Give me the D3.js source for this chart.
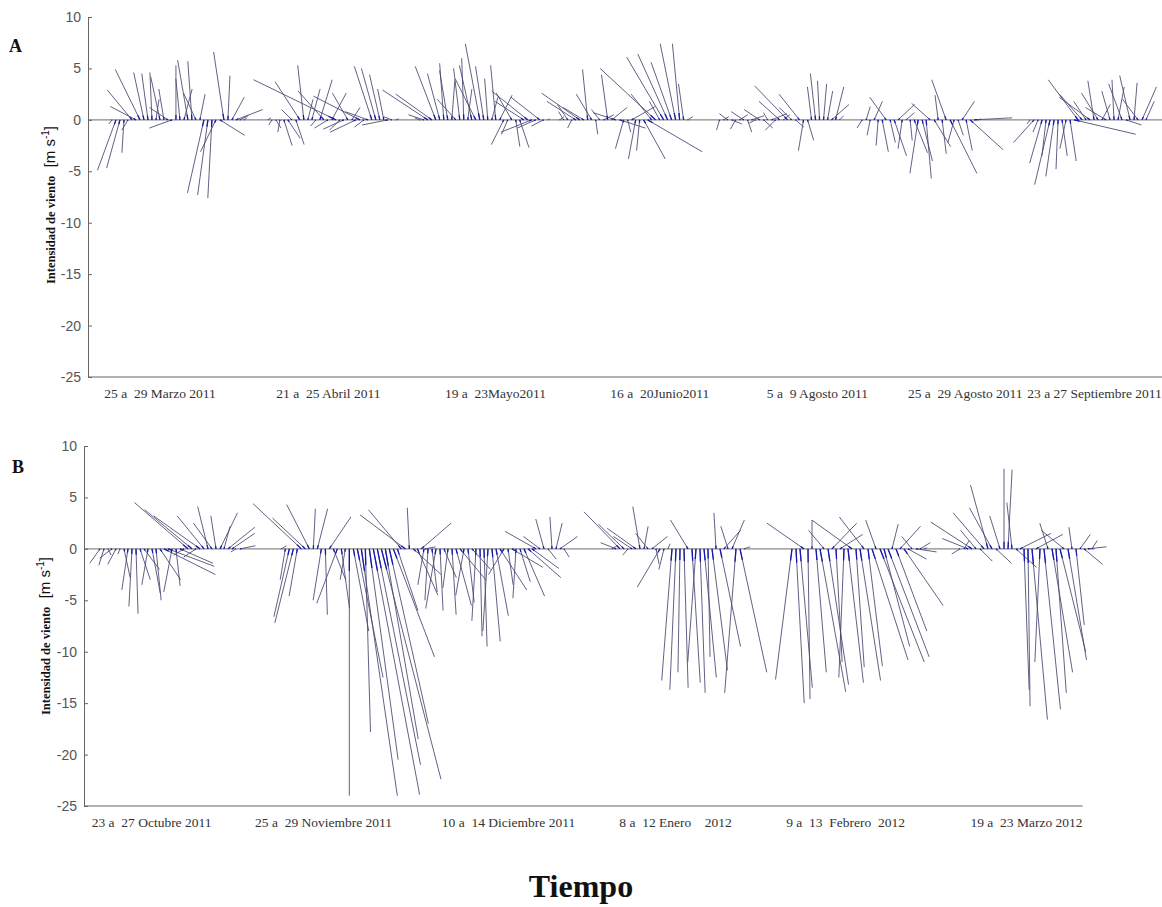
<!DOCTYPE html>
<html><head><meta charset="utf-8">
<script src="https://cdn.jsdelivr.net/npm/d3@7"></script>
<style>body{margin:0;background:#fff}</style>
</head><body>
<svg id="c" width="1162" height="907"></svg>
<script>
// ---------- data ----------
const yTicks = [10, 5, 0, -5, -10, -15, -20, -25];
const stepHours = 3;

const labelsA = ["25 a  29 Marzo 2011", "21 a  25 Abril 2011", "19 a  23Mayo2011", "16 a  20Junio2011", "5 a  9 Agosto 2011", "25 a  29 Agosto 2011", "23 a 27 Septiembre 2011"];
const labelHoursA = [53.7, 180, 305.4, 428.7, 547, 658, 755];
const startHoursA = [18, 135, 249, 354, 474, 581, 707];

const uA1 = [-0.3,-1.8,-1.3,-0.2,-0.6,-2.4,-2.5,-2.4,-1.0,-0.6,-0.2,0.3,-0.9,-0.5,-1.8,-2.2,0.0,-0.4,0.8,-1.0,-0.4,-1.2,0.5,-1.6,-1.0,-0.4,-1.5,2.4,-1.0,0.2,1.2,2.6,0.8,0.3];
const vA1 = [-0.4,-4.9,-4.7,-3.2,-1.0,2.9,1.3,4.9,4.6,4.5,4.6,2.0,4.2,3.0,1.2,-0.8,5.3,4.0,3.0,5.8,5.7,2.6,2.5,-7.1,-7.3,-7.6,-3.1,-1.5,6.6,4.3,2.2,1.0,0.4,0.2];
const uA2 = [0.3,-0.3,0.5,-0.2,0.8,1.2,-1.0,0.8,-2.4,-0.6,0.5,0.8,-0.5,1.2,-2.5,-1.3,1.4,-8.0,-1.0,-2.0,-1.5,0.8,-2.5,-4.5,-0.9,-2.2,-1.7,-1.4,-1.0,-0.6,-2.5,-0.8,0.3];
const vA2 = [0.2,-0.5,-0.8,-1.2,-2.5,-1.8,1.0,-2.4,3.7,5.3,2.0,3.0,-0.6,3.9,2.8,-0.8,2.6,3.9,-1.0,-0.9,2.6,1.2,-1.2,2.3,-0.7,0.8,5.2,5.0,4.4,3.0,-0.5,0.3,0.1];
const uA3 = [-0.5,-1.5,-4.4,-3.5,-2.0,-1.2,-0.4,-0.8,0.3,-1.8,-0.6,-0.2,0.4,-1.2,-2.0,-1.4,-0.8,-0.3,0.6,-0.5,1.2,-1.2,-0.6,-1.5,0.4,0.9,-2.8,-3.5,-3.0,-1.8,-2.8,-1.2,0.2];
const vA3 = [0.2,0.5,2.9,2.5,5.2,4.5,5.5,4.8,3.8,2.0,5.0,6.0,3.0,5.3,4.0,7.4,5.2,4.0,2.2,5.3,2.4,-2.4,-1.4,2.6,-2.6,-2.7,1.8,2.8,-1.2,-0.8,2.2,-0.6,0.1];
const uA4 = [0.4,-0.5,-1.0,-0.4,-2.8,-3.7,-2.0,-0.5,-1.5,0.2,-0.8,1.0,-0.6,1.5,-2.2,2.5,-0.8,0.3,2.3,-0.7,-0.3,2.1,5.3,-2.0,-5.4,-1.0,-3.6,-2.9,-2.0,-1.5,-0.7,-0.5,0.5];
const vA4 = [0.3,0.8,1.5,-0.8,1.8,2.6,1.2,4.9,2.5,-1.4,1.0,0.5,4.4,1.2,0.7,-0.8,-2.8,-1.2,1.3,-3.8,-3.0,-3.8,-3.1,2.5,5.0,1.8,6.1,6.4,5.6,7.4,7.4,3.5,0.3];
const uA5 = [-0.3,0.5,-0.8,1.0,-0.5,0.8,-1.2,0.4,1.2,-0.6,-1.5,0.9,-0.4,1.5,-1.0,-2.0,0.6,-3.2,-1.2,0.8,-2.0,-0.5,0.6,-0.4,-0.5,-0.2,0.3,0.5,1.7,0.8,0.4];
const vA5 = [-1.0,0.3,0.6,-0.4,-0.9,0.5,0.8,-1.2,0.4,-0.3,1.0,-0.8,0.7,0.6,-1.0,1.8,0.5,3.3,1.2,-0.7,2.5,-3.0,-2.0,3.2,4.5,3.8,3.5,2.8,1.5,3.2,0.4];
const uA6 = [-0.5,0.4,-0.3,0.8,-0.2,0.6,-1.6,0.5,1.2,1.6,-0.4,0.8,0.2,1.3,-0.8,1.0,0.5,-1.8,1.6,-0.3,0.4,-1.4,2.6,-0.6,0.5,1.2,0.6,3.2,3.7,0.3];
const vA6 = [-0.8,1.3,-1.5,1.8,-2.5,-3.1,2.2,-2.2,-3.5,1.5,-2.8,0.7,-2.0,-3.2,-5.2,-4.0,-5.7,1.6,-2.6,2.4,-3.3,3.9,-5.2,-2.2,-1.5,1.8,-3.0,-2.9,0.2,0.1];
const uA7 = [-0.3,-2.0,-0.5,-1.2,-0.4,-1.5,-0.8,-0.2,0.5,-0.6,0.6,6.0,-2.9,-2.2,-1.2,-3.0,-0.6,-1.6,0.8,-2.0,-0.8,-0.2,0.6,-1.3,1.5,-1.0,0.3,-1.5,1.4,0.8];
const vA7 = [-0.4,-2.2,-1.2,-4.2,-3.5,-6.3,-5.5,-4.8,-3.5,-2.8,-4.0,-1.4,3.9,2.5,1.8,2.2,3.8,2.6,1.5,1.2,2.8,3.9,3.2,3.5,-0.5,4.3,3.6,2.0,3.2,1.8];

const labelsB = ["23 a  27 Octubre 2011", "25 a  29 Noviembre 2011", "10 a  14 Diciembre 2011", "8 a  12 Enero    2012", "9 a  13  Febrero  2012", "19 a  23 Marzo 2012"];
const labelHoursB = [50.3, 179.3, 318, 443.3, 570.8, 706.5];
const startHoursB = [12, 148, 255, 396, 531, 657];

const uB1 = [-1.0,-0.5,0.3,-1.2,-0.8,-0.2,0.6,-0.6,-0.3,0.2,1.0,1.5,-0.6,0.8,0.5,2.0,5.0,4.5,-0.8,0.4,3.2,-1.0,-5.2,-4.6,-1.2,-4.5,-2.6,-1.0,-1.8,-0.5,1.7,0.6,2.6,2.2,-0.5,1.5];
const vB1 = [-1.4,-1.6,-0.6,-0.9,-1.5,-0.5,-2.8,-4.0,-5.6,-6.3,-3.0,-2.0,-3.5,-4.3,-5.0,-3.0,-2.5,-1.7,-4.2,-3.6,-1.4,-0.6,4.5,3.8,-0.8,3.2,3.2,4.1,2.5,3.2,3.5,2.2,2.1,1.5,-0.3,0.3];
const uB2 = [0.5,-0.5,-1.5,-1.8,-0.8,-4.7,-3.2,-2.2,0.2,1.0,-0.8,0.2,2.1,1.2,-2.0,0.8,-0.5,0.0,1.5,2.5,3.5,0.5,2.8,4.5,4.2,5.8,3.2,3.8,4.0,2.0,-3.2,-4.4,-0.2,2.7,2.0,2.9,1.0];
const vB2 = [0.3,-3.0,-6.6,-7.2,-4.6,4.4,3.0,4.3,3.9,3.9,-5.0,-6.4,3.1,-3.0,-5.3,-5.8,-3.0,-24.0,-8.0,-12.5,-24.0,-17.8,-20.5,-23.9,-21.0,-22.4,-18.5,-17.0,-10.5,-6.0,3.8,3.3,4.0,-2.5,-4.5,2.5,0.2];
const uB3 = [-0.6,-0.3,0.5,-1.0,0.3,1.2,-0.5,0.4,1.5,2.5,-0.8,0.6,1.8,-0.4,0.2,0.3,-0.5,0.8,1.2,2.6,-1.5,0.5,3.0,-0.3,1.0,2.0,3.2,2.6,-3.0,-1.6,-0.8,0.8,-0.2,0.6,1.7,0.5];
const vB3 = [-3.5,-5.0,-4.2,-5.8,-6.0,-2.8,-3.8,-6.4,-5.5,-3.0,-4.5,-5.2,-2.0,-7.0,-8.5,-9.5,-8.0,-9.0,-6.5,-4.0,-2.5,-3.5,-1.8,-4.8,-3.2,-4.6,-2.8,-1.9,1.7,1.2,2.9,-1.0,3.1,2.5,1.2,-0.8];
const uB4 = [0.5,-1.5,-3.5,-2.5,-0.5,-1.8,-2.8,-0.7,0.4,-1.2,1.5,0.3,-2.2,-0.5,0.2,-1.0,-0.6,-0.2,0.4,-1.7,0.8,-0.8,0.5,1.2,0.2,1.5,-0.2,2.0,1.6,-0.7,1.2,-1.1,2.6,0.6];
const vB4 = [0.3,0.6,3.6,2.4,-0.6,1.2,2.0,4.1,2.2,1.5,1.2,-1.5,-3.7,-2.0,0.5,-12.8,-13.7,-12.0,-13.5,2.8,-13.0,-11.0,-14.0,-12.5,-10.5,-11.8,3.5,-9.5,1.8,2.2,2.8,-14.0,-12.0,0.2];
const uB5 = [-1.6,0.8,1.2,-3.6,0.2,0.0,1.0,2.5,-1.5,2.0,2.4,0.6,2.2,-0.5,1.5,-3.9,0.8,2.0,-2.4,1.4,3.5,-1.0,4.3,2.5,4.0,0.6,3.0,2.0,3.8,1.8,-1.0,2.0,1.0,0.3];
const vB5 = [-12.7,-15.0,-13.5,2.5,-14.6,2.8,-12.0,-13.9,1.8,-13.2,2.5,-11.0,1.4,-12.5,-13.0,2.8,-11.5,-12.8,3.1,-11.4,-10.8,2.8,-11.0,-9.5,-10.5,2.4,-8.0,2.2,-5.5,-1.0,1.2,-0.3,0.6,0.1];
const uB6 = [-0.8,0.5,-2.5,-4.0,-1.5,1.2,-3.0,-1.7,-2.2,1.5,-1.0,0.0,0.4,-0.5,2.0,3.0,0.5,0.2,1.5,2.6,-0.5,1.6,-0.8,2.0,1.0,2.5,-2.2,1.8,-0.3,0.8,1.0,1.8,1.8,0.5];
const vB6 = [-0.5,0.8,1.0,2.6,1.8,-1.2,3.5,6.2,4.0,-1.4,3.2,7.8,7.7,4.5,-1.8,1.5,-13.7,-15.3,-16.6,1.4,-11.0,-15.6,2.5,-12.0,-14.0,-10.0,1.8,-10.8,2.1,-7.4,1.4,-1.5,0.2,0.8];

// ---------- drawing ----------
const svg = d3.select("#c");
const serif = "'Liberation Serif','Times New Roman',serif";
const sans = "'Liberation Sans',Arial,sans-serif";

function panel(cfg) {
  const g = svg.append("g");
  const x = d3.scaleLinear().domain(cfg.xDomain).range(cfg.xRange);
  const y = d3.scaleLinear().domain([-25, 10]).range(cfg.yRange);
  const k = y(0) - y(1); // px per m/s, same for both components

  // zero line
  g.append("line").attr("x1", x(cfg.xDomain[0])).attr("x2", x(cfg.zeroEnd))
    .attr("y1", y(0)).attr("y2", y(0)).attr("stroke", "#8a8a8a").attr("stroke-width", 1.2);

  // sticks
  const sticks = [];
  cfg.groups.forEach((gr, gi) => {
    const n = Math.min(gr.u.length, gr.v.length);
    for (let i = 0; i < n; i++) sticks.push({ t: cfg.starts[gi] + i * stepHours, u: gr.u[i], v: gr.v[i] });
  });
  g.append("g").selectAll("line").data(sticks).join("line")
    .attr("x1", d => x(d.t)).attr("y1", y(0))
    .attr("x2", d => x(d.t) + d.u * k).attr("y2", d => y(d.v))
    .attr("stroke", "#45476f").attr("stroke-width", 1).attr("stroke-opacity", 0.85);
  // dense blue near origins
  g.append("g").selectAll("line").data(sticks).join("line")
    .attr("x1", d => x(d.t)).attr("y1", y(0))
    .attr("x2", d => x(d.t) + d.u * k * 0.09).attr("y2", d => y(d.v * 0.09))
    .attr("stroke", "#1818b0").attr("stroke-width", 1.3);

  // y axis
  const ya = g.append("g").attr("transform", `translate(${cfg.xRange[0]},0)`)
    .call(d3.axisLeft(y).tickValues(yTicks).tickFormat(d => String(d)).tickSizeInner(-4).tickSizeOuter(-4).tickPadding(7));
  ya.select(".domain").attr("stroke", "#666");
  ya.selectAll(".tick line").attr("stroke", "#666");
  ya.selectAll(".tick text").attr("fill", "#555").style("font-family", sans).style("font-size", "14px");

  // x axis
  const xa = g.append("g").attr("transform", `translate(0,${y(-25)})`)
    .call(d3.axisBottom(x).tickValues(cfg.labelHours).tickFormat((d, i) => cfg.labels[i]).tickSize(0).tickPadding(11));
  xa.select(".domain").remove();
  xa.append("line").attr("x1", x(cfg.xDomain[0])).attr("x2", x(cfg.axisEnd)).attr("stroke", "#666");
  xa.selectAll(".tick text").attr("fill", "#333").style("font-family", serif).style("font-size", "13.5px")
    .style("white-space", "pre").attr("xml:space", "preserve");

  // panel letter
  g.append("text").attr("x", cfg.letterPos[0]).attr("y", cfg.letterPos[1]).text(cfg.letter)
    .style("font-family", serif).style("font-weight", "bold").style("font-size", "18px").attr("fill", "#111");

  // y label
  const yl = g.append("text").attr("transform", `translate(${cfg.ylabPos[0]},${cfg.ylabPos[1]}) rotate(-90)`)
    .attr("text-anchor", "middle").attr("fill", "#111");
  yl.append("tspan").text("Intensidad de viento").style("font-family", serif).style("font-weight", "bold").style("font-size", "12.5px");
  yl.append("tspan").text("  [m s").style("font-family", sans).style("font-size", "15px").style("white-space", "pre").attr("xml:space", "preserve");
  yl.append("tspan").text("-1").attr("dy", -6).style("font-family", sans).style("font-size", "10px");
  yl.append("tspan").text("]").attr("dy", 6).style("font-family", sans).style("font-size", "15px");
}

panel({
  xDomain: [0, 806], xRange: [88, 1162], yRange: [377, 17], zeroEnd: 806, axisEnd: 806,
  starts: startHoursA, labels: labelsA, labelHours: labelHoursA,
  groups: [{u: uA1, v: vA1}, {u: uA2, v: vA2}, {u: uA3, v: vA3}, {u: uA4, v: vA4}, {u: uA5, v: vA5}, {u: uA6, v: vA6}, {u: uA7, v: vA7}],
  letter: "A", letterPos: [9, 52], ylabPos: [55, 205]
});
panel({
  xDomain: [0, 762], xRange: [84, 1100], yRange: [806, 446], zeroEnd: 758, axisEnd: 749,
  starts: startHoursB, labels: labelsB, labelHours: labelHoursB,
  groups: [{u: uB1, v: vB1}, {u: uB2, v: vB2}, {u: uB3, v: vB3}, {u: uB4, v: vB4}, {u: uB5, v: vB5}, {u: uB6, v: vB6}],
  letter: "B", letterPos: [12, 473], ylabPos: [50, 636]
});

svg.append("text").attr("x", 581).attr("y", 897).attr("text-anchor", "middle").text("Tiempo")
  .style("font-family", serif).style("font-weight", "bold").style("font-size", "32px").attr("fill", "#111");
</script>
</body></html>
